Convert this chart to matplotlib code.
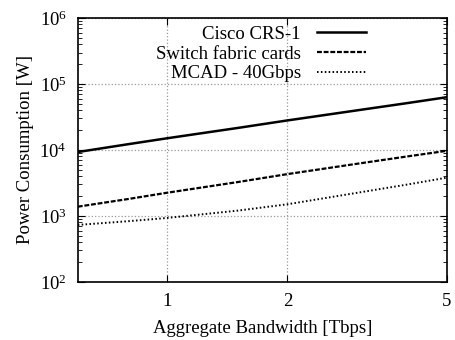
import matplotlib
matplotlib.use('Agg')
import matplotlib.pyplot as plt
from matplotlib.ticker import FixedLocator, NullFormatter, LogLocator

plt.rcParams['font.family'] = ['Liberation Serif', 'DejaVu Serif']
plt.rcParams['mathtext.fontset'] = 'custom'
plt.rcParams['mathtext.rm'] = 'Liberation Serif'

# data
bandwidth = [0.6, 0.8, 1, 1.5, 2, 3, 4, 5]
cisco = [9300, 12200, 15000, 21500, 28000, 40000, 51500, 63000]
switch_cards = [1380, 1800, 2240, 3250, 4300, 6200, 8000, 9700]
mcad = [730, 830, 930, 1200, 1500, 2250, 3000, 3800]
x_ticks = [1, 2, 5]

fig = plt.figure(figsize=(4.55, 3.4), dpi=100)
ax = fig.add_axes([0.171, 0.171, 0.811, 0.776])

ax.plot(bandwidth, cisco, color='black', linestyle='-', linewidth=1.8, label='Cisco CRS-1')
ax.plot(bandwidth, switch_cards, color='black', linestyle=(0, (2.2, 0.8)), linewidth=1.6, label='Switch fabric cards')
ax.plot(bandwidth, mcad, color='black', linestyle=(0, (0.8, 1.2)), linewidth=1.4, label='MCAD - 40Gbps')

ax.set_xscale('log')
ax.set_yscale('log')
ax.set_xlim(0.6, 5)
ax.set_ylim(1e2, 1e6)

ax.xaxis.set_major_locator(FixedLocator(x_ticks))
ax.set_xticklabels([str(t) for t in x_ticks])
ax.xaxis.set_minor_locator(FixedLocator([]))
ax.xaxis.set_minor_formatter(NullFormatter())
ax.yaxis.set_major_locator(LogLocator(base=10, numticks=10))
ax.yaxis.set_minor_locator(LogLocator(base=10, subs=range(2, 10), numticks=10))
ax.yaxis.set_minor_formatter(NullFormatter())

ax.tick_params(which='both', direction='in', top=True, right=True, labelsize=13.5, pad=8)
ax.tick_params(which='major', length=5)
ax.tick_params(which='minor', length=3)
ax.grid(True, which='major', color='#999999', linestyle=':', linewidth=0.9)
for s in ax.spines.values():
    s.set_linewidth(1.2)

ax.set_xlabel('Aggregate Bandwidth [Tbps]', fontsize=13.5, labelpad=7)
ax.set_ylabel('Power Consumption [W]', fontsize=13.5, labelpad=4)

ax.legend(loc='upper right', bbox_to_anchor=(0.79, 0.985), frameon=False, markerfirst=False,
          fontsize=13.5, handlelength=2.6, labelspacing=0.14, borderaxespad=0.0,
          borderpad=0.2, handletextpad=0.85)

fig.savefig('out.png', dpi=100)
